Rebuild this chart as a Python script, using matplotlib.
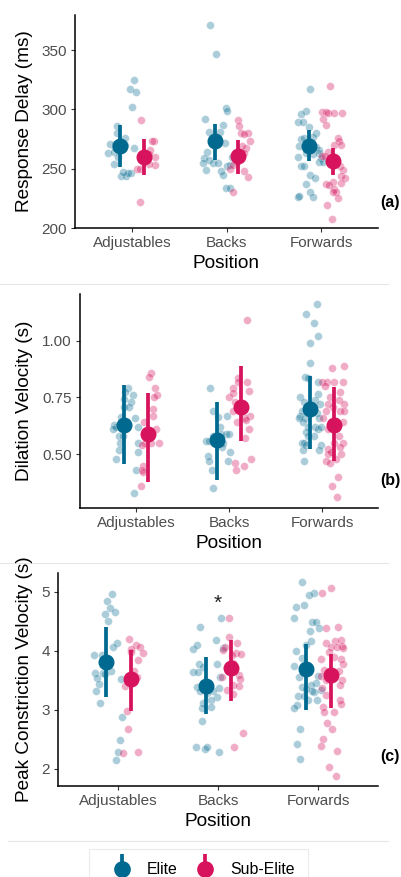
import matplotlib
matplotlib.use("Agg")
import matplotlib.pyplot as plt
from matplotlib.lines import Line2D
from matplotlib.legend_handler import HandlerTuple

plt.rcParams['font.family'] = ['Liberation Sans', 'DejaVu Sans']

positions = ['Adjustables', 'Backs', 'Forwards']
groups = ['Elite', 'Sub-Elite']

elite_col = '#00698F'
sub_col = '#D6135C'

# ---- panel (a): Response Delay (ms) ----
# per position: jitter offset from category centre, value
rd_elite_dx = [
    [0.02, -0.02, 0.04, 0.00, -0.16, -0.16, -0.07, -0.23, -0.18, -0.07, -0.25,
     -0.19, -0.13, 0.02, -0.18, -0.19, -0.11, -0.06, -0.01, -0.04, -0.09, -0.15],
    [-0.17, -0.11, -0.23, -0.01, 0.01, -0.04, -0.07, -0.19, -0.11, -0.02, -0.21,
     -0.24, -0.19, -0.25, -0.22, -0.14, -0.09, -0.06, -0.04, 0.00, -0.01, 0.04,
     0.06, 0.04],
    [-0.12, -0.16, -0.21, -0.25, -0.19, -0.13, -0.05, -0.21, -0.18, -0.09, -0.23,
     -0.06, -0.02, -0.02, -0.25, -0.16, -0.09, 0.00, -0.02, 0.02, -0.21, -0.18,
     -0.12, -0.07, -0.16, -0.12, -0.09, -0.25, -0.23],
]
rd_elite_y = [
    [325, 317, 315, 302, 286, 280, 276, 271, 271, 270, 263,
     264, 266, 267, 267, 254, 244, 244, 246, 246, 247, 260],
    [371, 347, 292, 301, 299, 287, 281, 281, 275, 272, 264,
     259, 257, 255, 249, 255, 255, 248, 245, 252, 234, 234,
     260, 253],
    [317, 299, 296, 289, 289, 285, 280, 275, 276, 277, 269,
     268, 266, 263, 260, 263, 262, 259, 256, 256, 252, 252,
     245, 242, 237, 230, 226, 226, 227],
]
rd_sub_dx = [
    [0.10, 0.09, 0.23, 0.21, 0.19, 0.24, 0.25, 0.05, 0.09, 0.18, 0.18],
    [0.12, 0.13, 0.15, 0.23, 0.19, 0.25, 0.21, 0.19, 0.07, 0.23, 0.19,
     0.04, 0.09, 0.11, 0.07, 0.16],
    [0.09, 0.01, 0.05, 0.07, 0.14, 0.22, 0.02, 0.05, 0.18, 0.19, 0.14,
     0.21, 0.07, 0.04, 0.12, 0.20, 0.23, 0.21, 0.25, 0.21, 0.12, 0.05,
     0.08, 0.14, 0.16, 0.12, 0.18, 0.06, 0.11, 0.16, 0.01],
]
rd_sub_y = [
    [291, 222, 273, 273, 266, 260, 253, 250, 250, 262, 254],
    [291, 286, 280, 280, 279, 273, 267, 263, 230, 243, 248,
     250, 260, 256, 253, 269],
    [320, 298, 298, 297, 297, 297, 292, 287, 276, 273, 270,
     270, 264, 261, 260, 252, 249, 244, 242, 238, 239, 237,
     236, 233, 230, 230, 225, 219, 208, 255, 261],
]
rd_elite_mean = [268.7, 272.9, 269.5]
rd_elite_lo = [251.3, 257.5, 256.6]
rd_elite_hi = [286.4, 287.8, 282.2]
rd_sub_mean = [259.7, 260.3, 256.4]
rd_sub_lo = [244.3, 245.4, 244.9]
rd_sub_hi = [274.9, 274.3, 267.3]

# ---- panel (b): Dilation Velocity (s) ----
dv_elite_dx = [
    [-0.08, -0.12, -0.03, -0.13, -0.05, -0.13, -0.07, -0.24, -0.21, -0.18, -0.01,
     -0.16, 0.02, -0.14, -0.17, -0.18, -0.21, -0.25, 0.02, 0.02, 0.00, -0.02],
    [-0.20, -0.17, -0.10, -0.25, -0.21, -0.17, -0.09, -0.06, -0.03, 0.00, 0.01,
     -0.23, -0.22, -0.01, -0.18, -0.17, -0.12, -0.02, -0.08],
    [-0.06, -0.17, -0.09, -0.04, -0.13, -0.13, -0.18, -0.15, -0.04, -0.24, -0.04,
     -0.20, -0.08, -0.02, -0.22, -0.24, -0.18, -0.25, -0.21, -0.06, -0.03, -0.15,
     -0.08, -0.04, -0.01, -0.17, -0.15, -0.09, -0.22, -0.19, -0.17, -0.01, -0.21,
     -0.03, -0.19],
]
dv_elite_y = [
    [0.79, 0.775, 0.76, 0.745, 0.73, 0.71, 0.71, 0.63, 0.62, 0.58, 0.66,
     0.665, 0.62, 0.58, 0.55, 0.52, 0.48, 0.61, 0.55, 0.51, 0.43, 0.33],
    [0.79, 0.69, 0.62, 0.56, 0.56, 0.58, 0.59, 0.55, 0.59, 0.59, 0.51,
     0.49, 0.47, 0.47, 0.43, 0.35, 0.665, 0.67, 0.53],
    [1.16, 1.12, 1.08, 1.02, 0.99, 0.90, 0.84, 0.835, 0.82, 0.75, 0.765,
     0.73, 0.74, 0.72, 0.69, 0.67, 0.66, 0.66, 0.64, 0.68, 0.66, 0.62,
     0.62, 0.61, 0.62, 0.60, 0.58, 0.58, 0.55, 0.55, 0.54, 0.54, 0.52,
     0.52, 0.47],
]
dv_sub_dx = [
    [0.16, 0.14, 0.21, 0.23, 0.19, 0.18, 0.18, 0.09, 0.22, 0.25, 0.10,
     0.07, 0.08, 0.07, 0.08, 0.05, 0.16],
    [0.19, 0.10, 0.10, 0.19, 0.04, 0.21, 0.00, 0.04, 0.06, 0.23, 0.17,
     0.18, 0.21, 0.17, 0.24, 0.06, 0.08, 0.16, 0.04, 0.09],
    [0.11, 0.23, 0.00, 0.05, 0.13, 0.22, 0.03, 0.19, 0.08, 0.12, 0.06,
     0.18, 0.24, 0.19, 0.04, 0.01, 0.23, 0.15, 0.22, 0.06, 0.15, 0.18,
     0.22, 0.13, 0.19, 0.06, 0.06, 0.10, 0.20, 0.04, 0.08, 0.15, 0.17,
     0.11, 0.16],
]
dv_sub_y = [
    [0.86, 0.84, 0.79, 0.76, 0.75, 0.70, 0.67, 0.64, 0.61, 0.55, 0.55,
     0.54, 0.45, 0.43, 0.42, 0.36, 0.55],
    [1.09, 0.837, 0.82, 0.82, 0.79, 0.78, 0.75, 0.77, 0.73, 0.67, 0.66,
     0.65, 0.61, 0.57, 0.48, 0.46, 0.43, 0.45, 0.69, 0.64],
    [0.88, 0.89, 0.82, 0.82, 0.82, 0.82, 0.80, 0.775, 0.75, 0.71, 0.72,
     0.74, 0.72, 0.69, 0.69, 0.66, 0.69, 0.645, 0.64, 0.61, 0.62, 0.58,
     0.55, 0.55, 0.53, 0.525, 0.50, 0.51, 0.50, 0.47, 0.46, 0.48, 0.40,
     0.36, 0.31],
]
dv_elite_mean = [0.628, 0.562, 0.70]
dv_elite_lo = [0.459, 0.385, 0.524]
dv_elite_hi = [0.803, 0.73, 0.845]
dv_sub_mean = [0.59, 0.71, 0.63]
dv_sub_lo = [0.378, 0.557, 0.47]
dv_sub_hi = [0.768, 0.89, 0.797]

# ---- panel (c): Peak Constriction Velocity (s) ----
pc_elite_dx = [
    [-0.06, -0.11, -0.08, -0.13, -0.03, -0.10, -0.01, -0.05, -0.24, -0.16, -0.23,
     -0.21, -0.19, -0.22, -0.18, -0.07, -0.15, 0.03, 0.04, 0.02, 0.00, -0.02,
     -0.13],
    [0.03, -0.18, -0.25, -0.21, -0.02, 0.05, -0.19, -0.15, -0.25, -0.20, -0.01,
     0.02, -0.21, 0.01, -0.05, -0.18, -0.11, -0.01, -0.07, -0.15, -0.16, -0.07,
     -0.16, -0.22, -0.13, -0.11, 0.01],
    [-0.16, -0.04, -0.09, -0.22, -0.14, -0.24, -0.06, -0.02, 0.01, -0.08, -0.07,
     -0.12, -0.22, -0.16, -0.24, -0.19, 0.00, -0.02, -0.16, -0.07, -0.04, -0.20,
     -0.14, -0.01, -0.06, -0.10, -0.21, -0.24, -0.18, -0.21, -0.18, -0.12, 0.03],
]
pc_elite_y = [
    [4.97, 4.85, 4.72, 4.63, 4.65, 4.50, 4.13, 4.06, 3.92, 3.92, 3.62,
     3.53, 3.44, 3.31, 3.12, 3.66, 3.62, 3.52, 2.88, 2.48, 2.28, 2.14,
     3.60],
    [4.55, 4.41, 4.03, 4.10, 4.18, 4.04, 3.78, 3.72, 3.64, 3.64, 3.77,
     3.55, 3.39, 3.37, 3.31, 3.31, 3.28, 3.22, 3.17, 3.12, 3.03, 3.05,
     2.80, 2.37, 2.34, 2.36, 2.28],
    [5.17, 4.98, 4.94, 4.74, 4.78, 4.56, 4.48, 4.48, 4.39, 4.34, 4.16,
     4.09, 4.00, 3.88, 3.74, 3.56, 3.57, 3.46, 3.38, 3.42, 3.30, 3.23,
     3.23, 3.16, 3.31, 3.16, 3.08, 3.03, 2.68, 2.41, 2.16, 3.35, 3.34],
]
pc_sub_dx = [
    [0.11, 0.18, 0.22, 0.25, 0.20, 0.13, 0.16, 0.19, 0.07, 0.09, 0.10,
     0.05, 0.20, 0.13],
    [0.11, 0.11, 0.19, 0.07, 0.18, 0.23, 0.14, 0.05, 0.15, 0.21, 0.22,
     0.15, 0.09, 0.21, 0.15, 0.25, 0.16, 0.04],
    [0.13, 0.04, 0.20, 0.08, 0.08, 0.17, 0.23, 0.24, 0.25, 0.19, 0.13,
     0.11, 0.23, 0.03, 0.16, 0.25, 0.06, 0.21, 0.24, 0.03, 0.08, 0.22,
     0.04, 0.08, 0.05, 0.22, 0.23, 0.16, 0.06, 0.09, 0.14, 0.05, 0.03,
     0.19, 0.11, 0.18],
]
pc_sub_y = [
    [4.20, 4.10, 4.06, 3.97, 3.85, 4.03, 3.66, 3.56, 3.40, 2.97, 2.68,
     2.27, 2.28, 3.98],
    [4.55, 4.23, 4.14, 4.06, 3.97, 3.94, 3.92, 4.02, 3.80, 3.59, 3.52,
     3.42, 3.34, 3.41, 3.27, 2.60, 2.36, 3.55],
    [5.06, 4.98, 4.41, 4.39, 4.14, 4.16, 4.19, 4.08, 4.04, 4.07, 4.06,
     3.98, 3.86, 3.86, 3.90, 3.78, 3.67, 3.66, 3.50, 3.57, 3.51, 3.42,
     3.36, 3.25, 3.05, 3.16, 3.10, 2.96, 2.96, 2.78, 2.68, 2.51, 2.39,
     2.30, 2.02, 1.87],
]
pc_elite_mean = [3.81, 3.40, 3.69]
pc_elite_lo = [3.21, 2.92, 3.00]
pc_elite_hi = [4.40, 3.89, 4.12]
pc_sub_mean = [3.52, 3.70, 3.59]
pc_sub_lo = [2.97, 3.15, 3.03]
pc_sub_hi = [4.02, 4.18, 3.95]

W, H = 401, 877
fig = plt.figure(figsize=(W / 100, H / 100), dpi=100)


def panel(rect, e_dx, e_y, s_dx, s_y, e_m, e_lo, e_hi, s_m, s_lo, s_hi,
          ylim, yticks, yticklabels, ylabel, tag, tag_y):
    left, top, right, bottom = rect
    ax = fig.add_axes([left / W, 1 - bottom / H, (right - left) / W, (bottom - top) / H])
    for i in range(3):
        xs = [i + 1 + d for d in e_dx[i]]
        ax.scatter(xs, e_y[i], s=32, color=elite_col, alpha=0.33,
                   edgecolors='white', linewidths=0.5, zorder=2)
        xs = [i + 1 + d for d in s_dx[i]]
        ax.scatter(xs, s_y[i], s=32, color=sub_col, alpha=0.35,
                   edgecolors='white', linewidths=0.5, zorder=2)
    ex = [1 - 0.125, 2 - 0.125, 3 - 0.125]
    sx = [1 + 0.125, 2 + 0.125, 3 + 0.125]
    ax.vlines(ex, e_lo, e_hi, color=elite_col, lw=2.7, zorder=3)
    ax.plot(ex, e_m, 'o', color=elite_col, ms=10.5, zorder=4)
    ax.vlines(sx, s_lo, s_hi, color=sub_col, lw=2.7, zorder=3)
    ax.plot(sx, s_m, 'o', color=sub_col, ms=10.5, zorder=4)

    ax.set_xlim(0.4, 3.6)
    ax.set_ylim(*ylim)
    ax.set_xticks([1, 2, 3])
    ax.set_xticklabels(positions)
    ax.set_yticks(yticks)
    ax.set_yticklabels(yticklabels)
    ax.tick_params(labelsize=11, labelcolor='#4D4D4D', length=3, width=0.8,
                   color='#333333', pad=3)
    for s in ['top', 'right']:
        ax.spines[s].set_visible(False)
    for s in ['left', 'bottom']:
        ax.spines[s].set_linewidth(1.1)
        ax.spines[s].set_color('black')
    ax.set_xlabel('Position', fontsize=13.7, labelpad=3)
    fig.text(25 / W, 1 - ((top + bottom) / 2) / H, ylabel, rotation=90,
             ha='center', va='center', fontsize=13.7)
    fig.text(380 / W, 1 - tag_y / H, tag, fontweight='bold', fontsize=11.5,
             ha='left', va='center')
    return ax


ax_a = panel((75, 15, 378, 228), rd_elite_dx, rd_elite_y, rd_sub_dx, rd_sub_y,
             rd_elite_mean, rd_elite_lo, rd_elite_hi, rd_sub_mean, rd_sub_lo, rd_sub_hi,
             (200, 379.5), [200, 250, 300, 350], ['200', '250', '300', '350'],
             'Response Delay (ms)', '(a)', 202)

ax_b = panel((80, 294, 378, 508), dv_elite_dx, dv_elite_y, dv_sub_dx, dv_sub_y,
             dv_elite_mean, dv_elite_lo, dv_elite_hi, dv_sub_mean, dv_sub_lo, dv_sub_hi,
             (0.263, 1.206), [0.5, 0.75, 1.0], ['0.50', '0.75', '1.00'],
             'Dilation Velocity (s)', '(b)', 480)

ax_c = panel((58, 573, 378, 786), pc_elite_dx, pc_elite_y, pc_sub_dx, pc_sub_y,
             pc_elite_mean, pc_elite_lo, pc_elite_hi, pc_sub_mean, pc_sub_lo, pc_sub_hi,
             (1.705, 5.32), [2, 3, 4, 5], ['2', '3', '4', '5'],
             'Peak Constriction Velocity (s)', '(c)', 757)
ax_c.text(2, 4.80, '*', ha='center', va='center', fontsize=15, color='#222222')

# faint separators between stacked panels
for yy, x0, x1 in [(284, 0, 388), (563, 0, 388), (841, 8, 388)]:
    fig.add_artist(Line2D([x0 / W, x1 / W], [1 - yy / H, 1 - yy / H],
                          color='#E6E6E6', lw=0.8, transform=fig.transFigure))

handles = []
for col in [elite_col, sub_col]:
    bar = Line2D([], [], marker='|', markersize=22, mew=2.7, color=col, linestyle='none')
    dot = Line2D([], [], marker='o', markersize=11, color=col, linestyle='none')
    handles.append((bar, dot))
leg = fig.legend(handles, groups, loc='upper center',
                 bbox_to_anchor=(198.5 / W, 1 - 841 / H), ncol=2, fontsize=11.4,
                 frameon=True, borderpad=0.85, handletextpad=0.4, columnspacing=0.5,
                 handlelength=2.4,
                 handler_map={tuple: HandlerTuple(ndivide=1, pad=0)})
leg.get_frame().set_edgecolor('#E6E6E6')
leg.get_frame().set_linewidth(0.8)
leg.get_frame().set_boxstyle('square', pad=0)

fig.savefig('out.png', dpi=100)
